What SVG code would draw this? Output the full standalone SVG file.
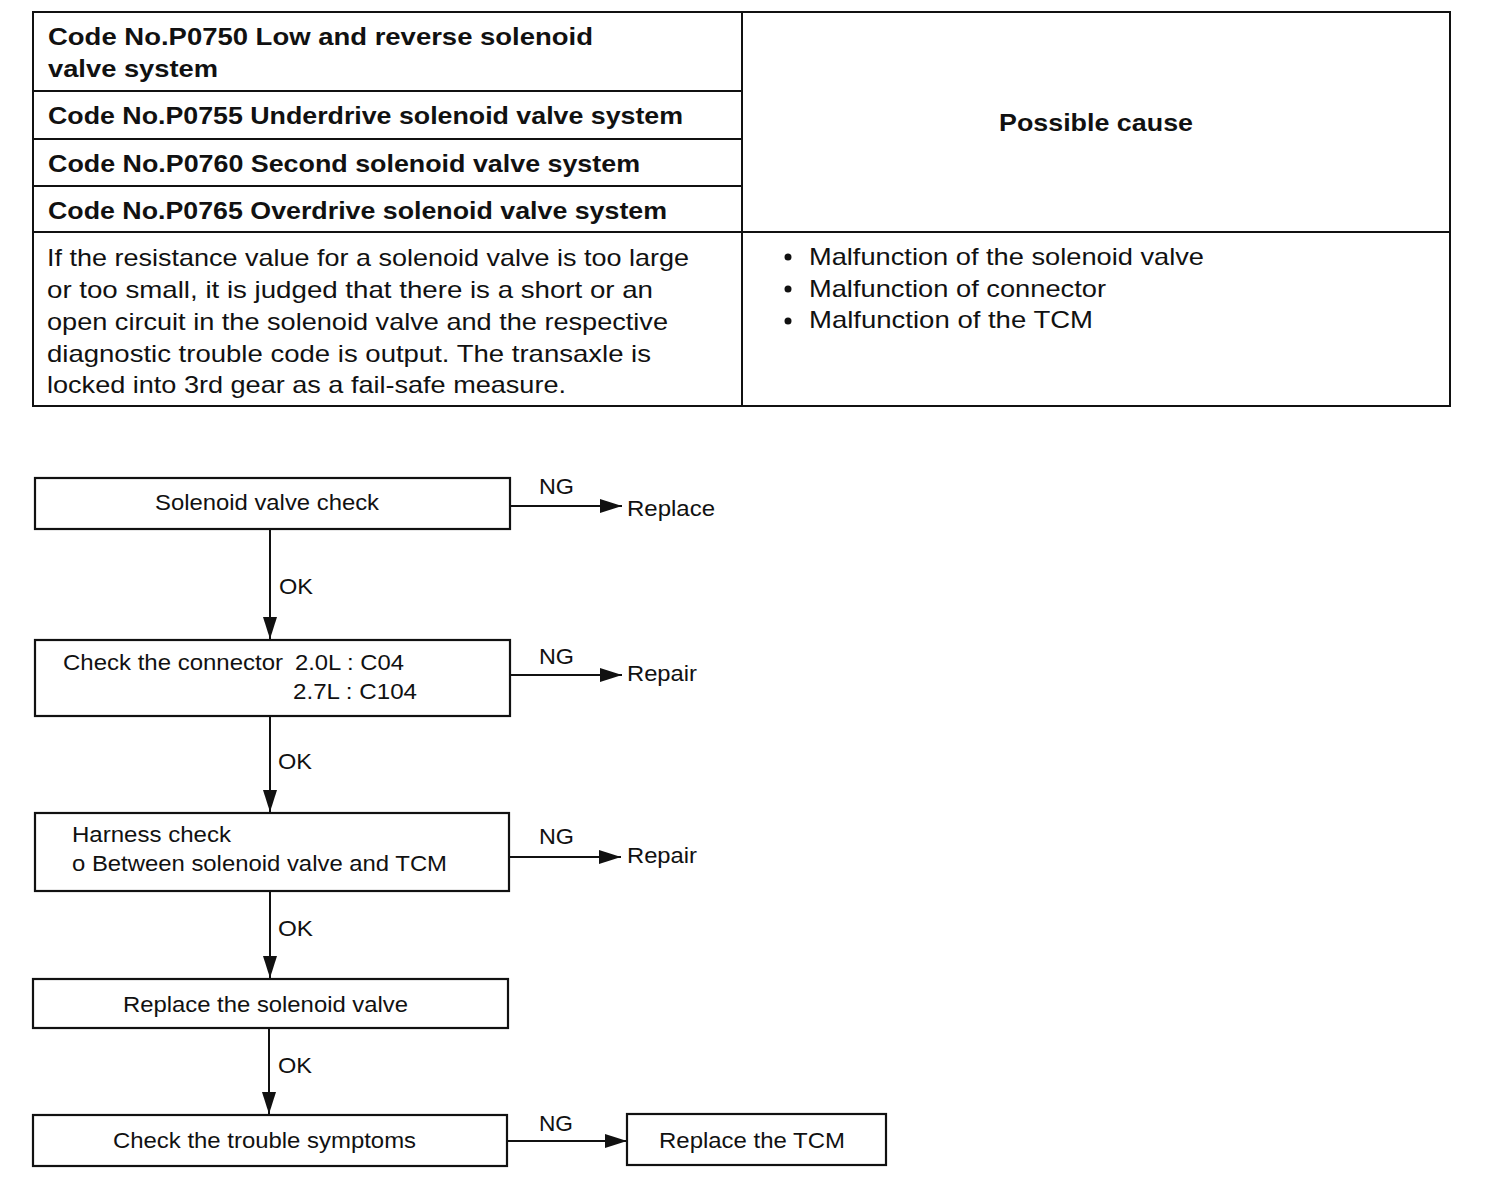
<svg xmlns="http://www.w3.org/2000/svg" width="1504" height="1204" viewBox="0 0 1504 1204">
<style>
text{font-family:"Liberation Sans",Arial,sans-serif;fill:#111}
.tb{font-size:24px;font-weight:bold}
.tn{font-size:24px}
.fc{font-size:22px}
.ln{stroke:#111;stroke-width:2;fill:none}
.box{stroke:#111;stroke-width:2.2;fill:#fff}
</style>
<defs>
<marker id="ah" markerUnits="userSpaceOnUse" markerWidth="24" markerHeight="14" refX="22" refY="7" orient="auto">
<path d="M0,0 L22,7 L0,14 Z" fill="#111"/>
</marker>
</defs>
<rect width="1504" height="1204" fill="#fff"/>
<g id="table">
<rect x="33" y="12" width="1417" height="394" class="ln"/>
<line x1="742" y1="12" x2="742" y2="406" class="ln"/>
<line x1="33" y1="91" x2="742" y2="91" class="ln"/>
<line x1="33" y1="139" x2="742" y2="139" class="ln"/>
<line x1="33" y1="186" x2="742" y2="186" class="ln"/>
<line x1="33" y1="232" x2="1450" y2="232" class="ln"/>
<text class="tb" x="48" y="45" textLength="545" lengthAdjust="spacingAndGlyphs">Code No.P0750 Low and reverse solenoid</text>
<text class="tb" x="48" y="77" textLength="170" lengthAdjust="spacingAndGlyphs">valve system</text>
<text class="tb" x="48" y="124" textLength="635" lengthAdjust="spacingAndGlyphs">Code No.P0755 Underdrive solenoid valve system</text>
<text class="tb" x="48" y="172" textLength="592" lengthAdjust="spacingAndGlyphs">Code No.P0760 Second solenoid valve system</text>
<text class="tb" x="48" y="219" textLength="619" lengthAdjust="spacingAndGlyphs">Code No.P0765 Overdrive solenoid valve system</text>
<text class="tb" x="999" y="131" textLength="194" lengthAdjust="spacingAndGlyphs">Possible cause</text>
<text class="tn" x="47" y="266" textLength="642" lengthAdjust="spacingAndGlyphs">If the resistance value for a solenoid valve is too large</text>
<text class="tn" x="47" y="298" textLength="606" lengthAdjust="spacingAndGlyphs">or too small, it is judged that there is a short or an</text>
<text class="tn" x="47" y="330" textLength="621" lengthAdjust="spacingAndGlyphs">open circuit in the solenoid valve and the respective</text>
<text class="tn" x="47" y="362" textLength="604" lengthAdjust="spacingAndGlyphs">diagnostic trouble code is output.  The transaxle is</text>
<text class="tn" x="47" y="393" textLength="519" lengthAdjust="spacingAndGlyphs">locked into 3rd gear as a fail-safe measure.</text>
<circle cx="788" cy="257" r="3.5" fill="#111"/>
<circle cx="788" cy="289" r="3.5" fill="#111"/>
<circle cx="788" cy="321" r="3.5" fill="#111"/>
<text class="tn" x="809" y="265" textLength="395" lengthAdjust="spacingAndGlyphs">Malfunction of the solenoid valve</text>
<text class="tn" x="809" y="297" textLength="297" lengthAdjust="spacingAndGlyphs">Malfunction of connector</text>
<text class="tn" x="809" y="328" textLength="284" lengthAdjust="spacingAndGlyphs">Malfunction of the TCM</text>
</g>
<g id="connectors">
<line x1="510" y1="506" x2="622" y2="506" class="ln" marker-end="url(#ah)"/>
<line x1="510" y1="675" x2="622" y2="675" class="ln" marker-end="url(#ah)"/>
<line x1="509" y1="857" x2="621" y2="857" class="ln" marker-end="url(#ah)"/>
<line x1="507" y1="1141" x2="627" y2="1141" class="ln" marker-end="url(#ah)"/>
<line x1="270" y1="529" x2="270" y2="639" class="ln" marker-end="url(#ah)"/>
<line x1="270" y1="716" x2="270" y2="812" class="ln" marker-end="url(#ah)"/>
<line x1="270" y1="891" x2="270" y2="978" class="ln" marker-end="url(#ah)"/>
<line x1="269" y1="1028" x2="269" y2="1114" class="ln" marker-end="url(#ah)"/>
<text class="fc" x="539" y="494" textLength="35" lengthAdjust="spacingAndGlyphs">NG</text>
<text class="fc" x="539" y="664" textLength="35" lengthAdjust="spacingAndGlyphs">NG</text>
<text class="fc" x="539" y="844" textLength="35" lengthAdjust="spacingAndGlyphs">NG</text>
<text class="fc" x="539" y="1131" textLength="34" lengthAdjust="spacingAndGlyphs">NG</text>
<text class="fc" x="279" y="594" textLength="34" lengthAdjust="spacingAndGlyphs">OK</text>
<text class="fc" x="278" y="769" textLength="34" lengthAdjust="spacingAndGlyphs">OK</text>
<text class="fc" x="278" y="936" textLength="35" lengthAdjust="spacingAndGlyphs">OK</text>
<text class="fc" x="278" y="1073" textLength="34" lengthAdjust="spacingAndGlyphs">OK</text>
<text class="fc" x="627" y="516" textLength="88" lengthAdjust="spacingAndGlyphs">Replace</text>
<text class="fc" x="627" y="681" textLength="70" lengthAdjust="spacingAndGlyphs">Repair</text>
<text class="fc" x="627" y="863" textLength="70" lengthAdjust="spacingAndGlyphs">Repair</text>
</g>
<g id="n1">
<rect x="35" y="478" width="475" height="51" class="box"/>
<text class="fc" x="155" y="510" textLength="224" lengthAdjust="spacingAndGlyphs">Solenoid valve check</text>
</g>
<g id="n2">
<rect x="35" y="640" width="475" height="76" class="box"/>
<text class="fc" x="63" y="670" textLength="220" lengthAdjust="spacingAndGlyphs">Check the connector</text>
<text class="fc" x="295" y="670" textLength="109" lengthAdjust="spacingAndGlyphs">2.0L : C04</text>
<text class="fc" x="293" y="699" textLength="124" lengthAdjust="spacingAndGlyphs">2.7L : C104</text>
</g>
<g id="n3">
<rect x="35" y="813" width="474" height="78" class="box"/>
<text class="fc" x="72" y="842" textLength="159" lengthAdjust="spacingAndGlyphs">Harness check</text>
<text class="fc" x="72" y="871" textLength="375" lengthAdjust="spacingAndGlyphs">o Between solenoid valve and TCM</text>
</g>
<g id="n4">
<rect x="33" y="979" width="475" height="49" class="box"/>
<text class="fc" x="123" y="1012" textLength="285" lengthAdjust="spacingAndGlyphs">Replace the solenoid valve</text>
</g>
<g id="n5">
<rect x="33" y="1115" width="474" height="51" class="box"/>
<text class="fc" x="113" y="1148" textLength="303" lengthAdjust="spacingAndGlyphs">Check the trouble symptoms</text>
</g>
<g id="n6">
<rect x="627" y="1114" width="259" height="51" class="box"/>
<text class="fc" x="659" y="1148" textLength="186" lengthAdjust="spacingAndGlyphs">Replace the TCM</text>
</g>
</svg>
